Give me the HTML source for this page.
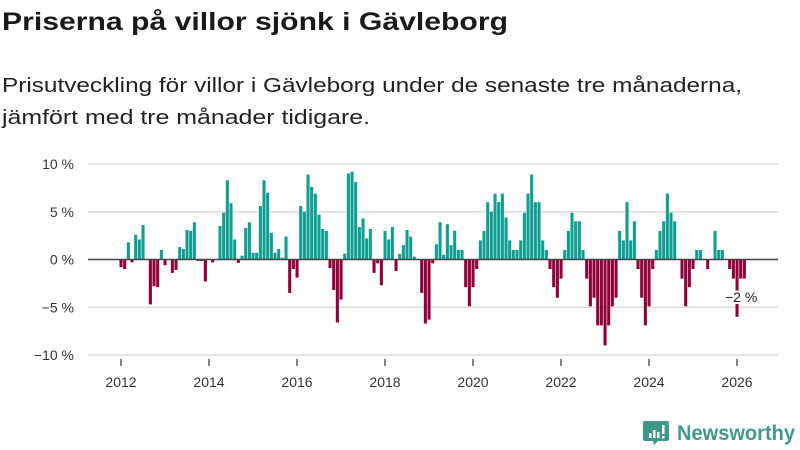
<!DOCTYPE html>
<html><head><meta charset="utf-8"><style>
html,body{margin:0;padding:0;background:#fff;}
svg{display:block;font-family:"Liberation Sans","DejaVu Sans",sans-serif;}
</style></head><body>
<svg id="chart" width="800" height="450" viewBox="0 0 800 450">
<text x="2" y="30" font-size="25" font-weight="bold" fill="#1a1a1a" textLength="506" lengthAdjust="spacingAndGlyphs">Priserna på villor sjönk i Gävleborg</text>
<text x="2" y="92" font-size="20" fill="#222" textLength="740" lengthAdjust="spacingAndGlyphs">Prisutveckling för villor i Gävleborg under de senaste tre månaderna,</text>
<text x="2" y="124" font-size="20" fill="#222" textLength="368" lengthAdjust="spacingAndGlyphs">jämfört med tre månader tidigare.</text>
<g id="grid"></g><g id="bars"></g><g id="axis"></g>
<text x="725" y="302" font-size="14" fill="#222" stroke="#fff" stroke-width="4" paint-order="stroke" stroke-linejoin="round">−2 %</text>
<g>
<path d="M645 421 h22 a2 2 0 0 1 2 2 v16 a2 2 0 0 1 -2 2 h-9 l-4 4 l-1 -4 h-8 a2 2 0 0 1 -2 -2 v-16 a2 2 0 0 1 2 -2z" fill="#3d9a8b"/>
<rect x="649" y="433" width="2.5" height="5" fill="#fff"/><rect x="653" y="430" width="2.5" height="8" fill="#fff"/><rect x="657" y="432" width="2.5" height="6" fill="#fff"/><rect x="662" y="425" width="2.5" height="9" fill="#fff"/><rect x="662" y="436" width="2.5" height="2.5" fill="#fff"/>
<text x="677" y="440" font-size="21" font-weight="bold" fill="#3d9a8b" textLength="118" lengthAdjust="spacingAndGlyphs">Newsworthy</text>
</g>
</svg>
<script>
const startYear = 2012;
const values = [-0.8,-1.0,1.8,-0.3,2.6,2.1,3.6,0,-4.7,-2.8,-2.9,1.0,-0.6,0,-1.4,-1.1,1.3,1.1,3.1,3.0,3.9,-0.15,-0.15,-2.3,0,-0.3,0,3.5,4.9,
8.3,5.9,2.1,-0.35,0.4,3.3,3.9,0.7,0.7,5.6,8.3,7.0,2.8,0.7,1.1,0.2,2.4,-3.5,-1.0,-1.9,5.6,5.0,8.9,7.6,6.9,4.7,3.2,3.0,
-0.9,-3.2,-6.6,-4.2,0.6,9.0,9.2,8.1,3.4,4.3,2.2,3.2,-1.4,-0.4,-2.7,3.0,2.1,3.4,-1.2,0.6,1.5,3.1,2.4,0.3,0,-3.5,-6.7,-6.3,-0.4,
1.6,3.9,0.5,3.7,1.5,3.0,1.0,1.0,-2.9,-4.9,-2.9,-1.0,
2.0,3.0,6.0,5.0,6.9,6.0,6.9,4.4,2.0,1.0,1.0,2.0,4.9,6.9,8.9,6.0,6.0,
2.0,1.0,-1.0,-2.9,-4.0,-2.0,1.0,3.0,4.9,4.0,4.0,1.0,-2.0,-4.9,-4.0,-6.9,-6.9,-9.0,-6.9,-4.9,-4.0,3.0,2.0,6.0,2.0,4.0,-1.0,-4.0,-6.9,-4.9,-1.0,1.0,3.0,4.0,6.9,4.9,4.0,0,-2.0,-4.9,-2.9,-1.0,1.0,1.0,0,-1.0,0,3.0,1.0,1.0,0,-1.0,-2.0,-6.0,-2.0,-2.0];
const yTicks = [10,5,0,-5,-10];
const yTickLabels = ["10 %","5 %","0 %","−5 %","−10 %"];
const xYears = [2012,2014,2016,2018,2020,2022,2024,2026];

const NS="http://www.w3.org/2000/svg";
const monthW = 44/12;
function xScale(m){return 119.5 + m*monthW;}
function yScale(v){return 259.5 - v*9.55;}
function mk(tag,attrs,parent){const e=document.createElementNS(NS,tag);for(const k in attrs)e.setAttribute(k,attrs[k]);parent.appendChild(e);return e;}
const grid=document.getElementById('grid'),bars=document.getElementById('bars'),axis=document.getElementById('axis');
yTicks.forEach((t,i)=>{
  const y=yScale(t);
  if(t!==0){const l=mk('line',{x1:88,x2:778,y1:y,y2:y,stroke:'#dcdcdc','stroke-width':1.5},grid);
  
  }
  const tx=mk('text',{x:74,y:y+5,'font-size':14,fill:'#333','text-anchor':'end'},axis);
  tx.textContent=yTickLabels[i];
  
  
});
values.forEach((v,i)=>{
  const y0=yScale(0),y1=yScale(v);
  const r=mk('rect',{x:xScale(i),y:Math.min(y0,y1),width:monthW-0.6,height:Math.abs(y1-y0),fill:v>=0?'#0f9e91':'#8f0138'},bars);
  
  
});
const zl=mk('line',{x1:88,x2:778,y1:yScale(0),y2:yScale(0),stroke:'#444','stroke-width':1.5},axis);


xYears.forEach(yr=>{
  const x=xScale((yr-startYear)*12)+1.5;
  const t=mk('line',{x1:x,x2:x,y1:359,y2:366,stroke:'#555','stroke-width':1.5},axis);
  
  
  const tx=mk('text',{x:x,y:387,'font-size':14,fill:'#333','text-anchor':'middle'},axis);
  tx.textContent=yr;
  
  
});
</script>
</body></html>
